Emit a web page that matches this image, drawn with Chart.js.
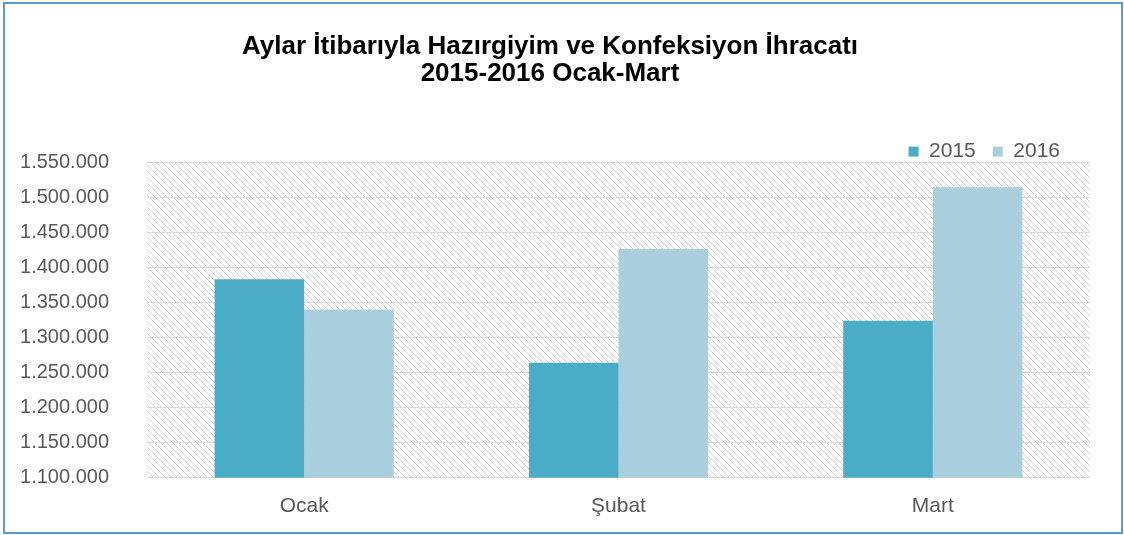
<!DOCTYPE html>
<html>
<head>
<meta charset="utf-8">
<script src="https://cdn.jsdelivr.net/npm/chart.js@4.4.1/dist/chart.umd.min.js"></script>
<style>
  html, body { margin: 0; padding: 0; background: #fff; }
  #wrap { width: 1124px; height: 535px; }
</style>
</head>
<body>
<div id="wrap"><canvas id="myChart" width="1124" height="535"></canvas></div>
<script>
// chart data
var months = ['Ocak', 'Şubat', 'Mart'];
var exports2015 = [1383000, 1264000, 1324000];
var exports2016 = [1340000, 1426000, 1514000];
var titleLines = ['Aylar İtibarıyla Hazırgiyim ve Konfeksiyon İhracatı', '2015-2016 Ocak-Mart'];

// thousands separator with dots
function dotFormat(v) {
    return v.toString().replace(/\B(?=(\d{3})+(?!\d))/g, '.');
}

// diagonal hatch for the plot background
function makeHatch() {
    var c = document.createElement('canvas');
    c.width = 6; c.height = 6;
    var g = c.getContext('2d');
    g.strokeStyle = '#d6d6d6';
    g.lineWidth = 1;
    [-6, 0, 6].forEach(function (o) {
        g.beginPath();
        g.moveTo(o, 0);
        g.lineTo(o + 6, 6);
        g.stroke();
    });
    return g.createPattern(c, 'repeat');
}

var hatchBg = {
    id: 'hatchBg',
    afterLayout: function (chart) {
        // nudge the legend in from the right edge and closer to the plot
        var lg = chart.legend;
        if (lg) {
            lg.right -= 13;
            lg.top += 10;
            lg.bottom += 10;
        }
    },
    beforeDraw: function (chart) {
        var a = chart.chartArea, ctx = chart.ctx;
        ctx.save();
        ctx.fillStyle = makeHatch();
        ctx.fillRect(a.left, a.top, a.right - a.left, a.bottom - a.top);
        ctx.restore();
    },
    afterDraw: function (chart) {
        var ctx = chart.ctx;
        ctx.save();
        ctx.strokeStyle = '#5b9bd5';
        ctx.lineWidth = 2;
        ctx.strokeRect(4, 3, 1118, 530);
        ctx.restore();
    }
};

var ctx = document.getElementById('myChart').getContext('2d');
var myChart = new Chart(ctx, {
    type: 'bar',
    data: {
        labels: months,
        datasets: [{
            label: '2015',
            data: exports2015,
            backgroundColor: '#4bacc6',
            categoryPercentage: 0.57,
            barPercentage: 1
        }, {
            label: '2016',
            data: exports2016,
            backgroundColor: '#a9cfdc',
            categoryPercentage: 0.57,
            barPercentage: 1
        }]
    },
    options: {
        responsive: false,
        animation: false,
        layout: { padding: { left: 10, right: 34, top: 0, bottom: 0 } },
        plugins: {
            title: {
                display: true,
                text: titleLines,
                color: '#000',
                font: { family: 'Liberation Sans', size: 26, weight: 'bold', lineHeight: 1.04 },
                padding: { top: 33, bottom: 27 }
            },
            legend: {
                position: 'top',
                align: 'end',
                labels: {
                    boxWidth: 10,
                    boxHeight: 10,
                    color: '#595959',
                    font: { family: 'Liberation Sans', size: 21, lineHeight: 0.5 },
                    padding: 17
                }
            },
            tooltip: { enabled: false }
        },
        scales: {
            x: {
                grid: { display: false, drawTicks: false },
                border: { display: false },
                ticks: {
                    color: '#595959',
                    font: { family: 'Liberation Sans', size: 21 },
                    padding: 16
                }
            },
            y: {
                min: 1100000,
                max: 1550000,
                grid: { color: '#d9d9d9', drawTicks: false },
                border: { display: false },
                afterFit: function (scale) { scale.width = 137; },
                ticks: {
                    stepSize: 50000,
                    color: '#595959',
                    font: { family: 'Liberation Sans', size: 20 },
                    padding: 38,
                    callback: function (v) { return dotFormat(v); }
                }
            }
        }
    },
    plugins: [hatchBg]
});
</script>
</body>
</html>
